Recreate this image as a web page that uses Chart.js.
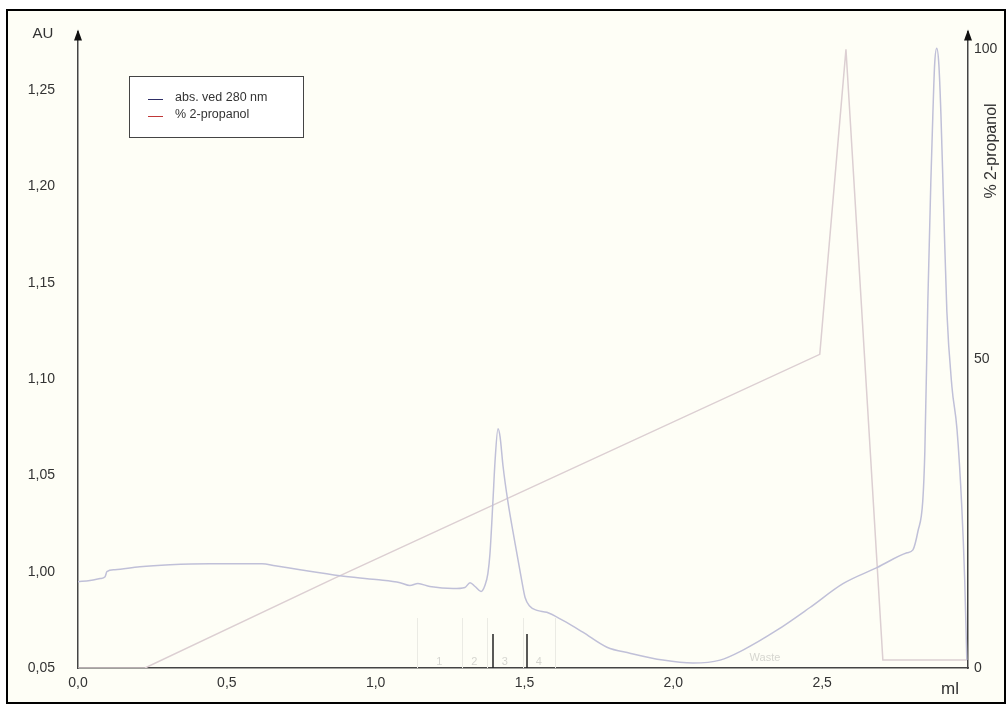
<!DOCTYPE html>
<html>
<head>
<meta charset="utf-8">
<title>abs. ved 280 nm / % 2-propanol</title>
<script src="https://cdn.jsdelivr.net/npm/chart.js@4.4.1/dist/chart.umd.min.js"></script>
<style>
  html, body { margin: 0; padding: 0; background: #ffffff; }
  #wrap { width: 1008px; height: 705px; }
</style>
</head>
<body>
<div id="wrap"><canvas id="kromatogram" width="1008" height="705"></canvas></div>
<script>
// Absorbans ved 280 nm (AU) mot eluert volum (ml)
const absVolume = [0, 0.040, 0.074, 0.091, 0.097, 0.124, 0.208, 0.309, 0.443, 0.618, 0.662, 0.746, 0.880,
  1.001, 1.082, 1.115, 1.142, 1.182, 1.260, 1.300, 1.317, 1.334, 1.354, 1.367, 1.377, 1.384, 1.394, 1.401,
  1.411, 1.418, 1.428, 1.444, 1.468, 1.490, 1.502, 1.518, 1.542, 1.575, 1.629, 1.696, 1.777, 1.854, 1.965,
  2.066, 2.157, 2.234, 2.348, 2.459, 2.570, 2.684, 2.785, 2.805, 2.822, 2.838, 2.845, 2.855, 2.865, 2.872,
  2.878, 2.885, 2.892, 2.899, 2.909, 2.919, 2.936, 2.953, 2.969, 2.979, 2.986];
const absValue = [0.9948, 0.9954, 0.9964, 0.9974, 1.0000, 1.0010, 1.0026, 1.0036, 1.0041, 1.0041, 1.0031, 1.0010, 0.9979,
  0.9959, 0.9943, 0.9928, 0.9938, 0.9923, 0.9912, 0.9918, 0.9943, 0.9923, 0.9897, 0.9928, 0.9990, 1.0093, 1.0366, 1.0572,
  1.0742, 1.0700, 1.0547, 1.0366, 1.0150, 0.9960, 0.9866, 0.9820, 0.9799, 0.9789, 0.9747, 0.9686, 0.9608, 0.9577, 0.9541,
  0.9526, 0.9541, 0.9593, 0.9696, 0.9814, 0.9938, 1.0021, 1.0098, 1.0113, 1.0211, 1.0366, 1.0624, 1.1397, 1.2015, 1.2376,
  1.2634, 1.2716, 1.2634, 1.2376, 1.1850, 1.1350, 1.0960, 1.0740, 1.0340, 0.9954, 0.9541];

// Gradient, % 2-propanol
const gradVolume = [0, 0.225, 0.857, 2.492, 2.580, 2.704, 2.986];
const gradPercent = [0, 0, 14.4, 50.7, 100, 1.3, 1.3];

// Akser
const volTicks = [0, 0.5, 1.0, 1.5, 2.0, 2.5];
const volTickLabels = ['0,0', '0,5', '1,0', '1,5', '2,0', '2,5'];
const auTicks = [0.95, 1.00, 1.05, 1.10, 1.15, 1.20, 1.25];
const auTickLabels = ['0,05', '1,00', '1,05', '1,10', '1,15', '1,20', '1,25'];
const pctTicks = [0, 50, 100];
const pctTickLabels = ['0', '50', '100'];

// Fraksjonssamler
const fractionEdges = [1.139, 1.289, 1.373, 1.494, 1.602];
const fractionNames = ['1', '2', '3', '4'];
const fractionMarks = [1.393, 1.509];
const wastePos = 2.308;

const FONT = '"Liberation Sans", Arial, sans-serif';
const INK = '#333333';

const pairs = (xs, ys) => xs.map((x, i) => ({ x: x, y: ys[i] }));

const decor = {
  id: 'decor',
  beforeDraw(chart) {
    const ctx = chart.ctx;
    ctx.save();
    ctx.fillStyle = '#ffffff';
    ctx.fillRect(0, 0, chart.width, chart.height);
    ctx.fillStyle = '#fefef6';
    ctx.fillRect(7, 10, 998, 693);
    ctx.strokeStyle = '#000000';
    ctx.lineWidth = 2;
    ctx.strokeRect(7, 10, 998, 693);
    ctx.restore();
  },
  beforeDatasetsDraw(chart) {
    const ctx = chart.ctx;
    const x = chart.scales.x;
    const bottom = chart.chartArea.bottom;
    ctx.save();
    // svake fraksjonsgrenser og -nummer
    ctx.strokeStyle = '#ebebe4';
    ctx.lineWidth = 1;
    fractionEdges.forEach(v => {
      const px = Math.round(x.getPixelForValue(v)) + 0.5;
      ctx.beginPath();
      ctx.moveTo(px, bottom);
      ctx.lineTo(px, bottom - 50);
      ctx.stroke();
    });
    ctx.fillStyle = '#d6d6d0';
    ctx.font = '11px ' + FONT;
    ctx.textAlign = 'center';
    ctx.textBaseline = 'middle';
    fractionNames.forEach((name, i) => {
      const mid = (fractionEdges[i] + fractionEdges[i + 1]) / 2;
      ctx.fillText(name, x.getPixelForValue(mid), bottom - 6);
    });
    ctx.fillText('Waste', x.getPixelForValue(wastePos), bottom - 10);
    ctx.restore();
  },
  afterDraw(chart) {
    const ctx = chart.ctx;
    const area = chart.chartArea;
    const x = chart.scales.x;
    ctx.save();
    // fraksjonsmerker
    ctx.strokeStyle = '#222222';
    ctx.lineWidth = 1.5;
    fractionMarks.forEach(v => {
      const px = Math.round(x.getPixelForValue(v));
      ctx.beginPath();
      ctx.moveTo(px, area.bottom);
      ctx.lineTo(px, area.bottom - 34);
      ctx.stroke();
    });
    // pilspisser på aksene
    ctx.fillStyle = '#111111';
    [area.left, area.right].forEach(ax => {
      ctx.beginPath();
      ctx.moveTo(ax, area.top - 2);
      ctx.lineTo(ax - 4, area.top + 9);
      ctx.lineTo(ax + 4, area.top + 9);
      ctx.closePath();
      ctx.fill();
    });
    // aksetitler
    ctx.fillStyle = INK;
    ctx.font = '15px ' + FONT;
    ctx.textAlign = 'center';
    ctx.textBaseline = 'middle';
    ctx.fillText('AU', 43, 34);
    ctx.font = '17px ' + FONT;
    ctx.fillText('ml', 950, 689);
    ctx.save();
    ctx.translate(992, 151);
    ctx.rotate(-Math.PI / 2);
    ctx.font = '16px ' + FONT;
    ctx.fillText('% 2-propanol', 0, 0);
    ctx.restore();
    // tegnforklaring
    ctx.strokeStyle = '#444444';
    ctx.lineWidth = 1;
    ctx.fillStyle = '#ffffff';
    ctx.fillRect(129.5, 76.5, 174, 61);
    ctx.strokeRect(129.5, 76.5, 174, 61);
    ctx.font = '12.5px ' + FONT;
    ctx.textAlign = 'left';
    const keys = [
      { label: chart.data.datasets[0].label, color: '#2e2e66', y: 99 },
      { label: chart.data.datasets[1].label, color: '#c03838', y: 116 }
    ];
    keys.forEach(k => {
      ctx.strokeStyle = k.color;
      ctx.beginPath();
      ctx.moveTo(148, k.y + 0.5);
      ctx.lineTo(163, k.y + 0.5);
      ctx.stroke();
      ctx.fillStyle = INK;
      ctx.fillText(k.label, 175, k.y - 1);
    });
    ctx.restore();
  }
};

const tickFont = { family: FONT, size: 14 };

new Chart(document.getElementById('kromatogram'), {
  type: 'line',
  data: {
    datasets: [{
      label: 'abs. ved 280 nm',
      data: pairs(absVolume, absValue),
      yAxisID: 'y',
      borderColor: '#c0c0d8',
      borderWidth: 1.5,
      pointRadius: 0,
      cubicInterpolationMode: 'monotone'
    }, {
      label: '% 2-propanol',
      data: pairs(gradVolume, gradPercent),
      yAxisID: 'y1',
      borderColor: '#dccfd2',
      borderWidth: 1.5,
      pointRadius: 0,
      tension: 0
    }]
  },
  options: {
    responsive: false,
    animation: false,
    devicePixelRatio: 1,
    layout: { padding: { top: 27, left: 0, right: 0, bottom: 0 } },
    plugins: { legend: { display: false }, tooltip: { enabled: false } },
    scales: {
      x: {
        type: 'linear',
        position: 'bottom',
        min: 0,
        max: 2.99,
        afterBuildTicks: s => { s.ticks = volTicks.map(v => ({ value: v })); },
        afterFit: s => { s.height = 37; },
        grid: { display: false, drawTicks: false },
        border: { display: true, color: '#444444', width: 1.5 },
        ticks: {
          padding: 7,
          color: INK,
          font: tickFont,
          maxRotation: 0,
          autoSkip: false,
          callback: (v, i) => volTickLabels[i]
        }
      },
      y: {
        type: 'linear',
        position: 'left',
        min: 0.95,
        max: 1.2804,
        afterBuildTicks: s => { s.ticks = auTicks.map(v => ({ value: v })); },
        afterFit: s => { s.width = 78; },
        grid: { display: false, drawTicks: false },
        border: { display: true, color: '#444444', width: 1.5 },
        ticks: {
          padding: 23,
          color: INK,
          font: tickFont,
          autoSkip: false,
          callback: (v, i) => auTickLabels[i]
        }
      },
      y1: {
        type: 'linear',
        position: 'right',
        min: 0,
        max: 102.9,
        afterBuildTicks: s => { s.ticks = pctTicks.map(v => ({ value: v })); },
        afterFit: s => { s.width = 40; },
        grid: { display: false, drawTicks: false },
        border: { display: true, color: '#444444', width: 1.5 },
        ticks: {
          padding: 6,
          color: INK,
          font: tickFont,
          autoSkip: false,
          callback: (v, i) => pctTickLabels[i]
        }
      }
    }
  },
  plugins: [decor]
});
</script>
</body>
</html>
